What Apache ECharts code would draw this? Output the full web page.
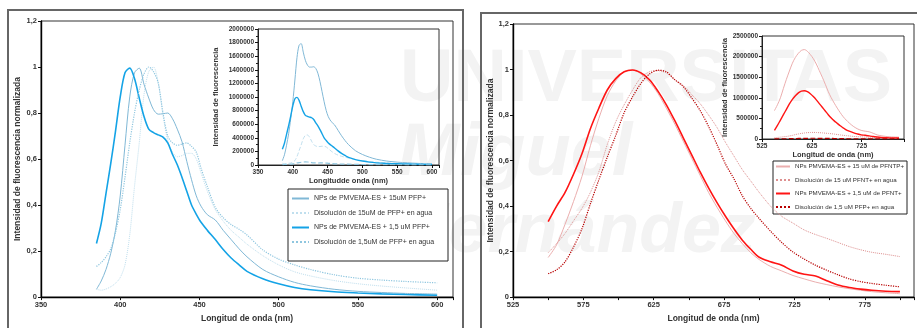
<!DOCTYPE html>
<html lang="es">
<head>
<meta charset="UTF-8">
<title>Espectros de fluorescencia PFP+ / PFNT+</title>
<script src="https://cdn.jsdelivr.net/npm/echarts@6/dist/echarts.min.js"></script>
<style>
  body { margin: 0; padding: 0; background: #fff; }
  #chart { width: 917px; height: 328px; }
</style>
</head>
<body>
<div id="chart"></div>
<script>
// ---- Panel izquierdo: PFP+ ----
const lambdaIzq = [385, 388, 391, 394, 397, 400, 403, 406, 409, 412, 415, 418, 421, 424, 427, 430, 433, 436, 439, 442,
  445, 448, 451, 455, 460, 465, 470, 475, 480, 490, 500, 510, 520, 535, 550, 565, 580, 600];
const normNP15PFP = [0.034, 0.07, 0.12, 0.19, 0.29, 0.44, 0.66, 0.87, 0.975, 0.995, 0.925, 0.865, 0.815, 0.795, 0.797, 0.80, 0.775, 0.73, 0.675, 0.59,
  0.51, 0.44, 0.395, 0.358, 0.335, 0.29, 0.25, 0.21, 0.175, 0.12, 0.088, 0.064, 0.049, 0.034, 0.025, 0.02, 0.016, 0.013];
const normDis15PFP = [0.034, 0.03, 0.035, 0.045, 0.06, 0.085, 0.14, 0.27, 0.48, 0.67, 0.88, 0.98, 1.0, 0.93, 0.79, 0.68, 0.63, 0.61, 0.615, 0.625,
  0.625, 0.60, 0.54, 0.46, 0.38, 0.33, 0.29, 0.26, 0.23, 0.18, 0.14, 0.11, 0.092, 0.072, 0.058, 0.048, 0.04, 0.03];
const normNP15uPFP = [0.233, 0.32, 0.45, 0.58, 0.72, 0.87, 0.975, 0.995, 0.95, 0.865, 0.785, 0.73, 0.715, 0.705, 0.695, 0.67, 0.62, 0.575, 0.52, 0.46,
  0.40, 0.36, 0.325, 0.29, 0.25, 0.207, 0.17, 0.14, 0.112, 0.08, 0.058, 0.042, 0.032, 0.023, 0.018, 0.014, 0.011, 0.008];
const normDis15uPFP = [0.133, 0.15, 0.175, 0.21, 0.28, 0.38, 0.52, 0.67, 0.80, 0.90, 0.97, 1.0, 0.98, 0.93, 0.80, 0.70, 0.67, 0.66, 0.665, 0.67,
  0.655, 0.63, 0.56, 0.48, 0.39, 0.345, 0.315, 0.295, 0.27, 0.205, 0.165, 0.14, 0.12, 0.097, 0.082, 0.074, 0.068, 0.062];
// intensidades absolutas (recuadro)
const absNP15PFP = [64000, 150000, 290000, 460000, 680000, 930000, 1250000, 1580000, 1760000, 1785000, 1660000, 1540000, 1470000, 1440000, 1440000, 1445000, 1420000, 1350000, 1230000, 1080000,
  930000, 800000, 710000, 640000, 590000, 510000, 430000, 360000, 300000, 210000, 155000, 115000, 85000, 58000, 42000, 32000, 24000, 16000];
const absDis15PFP = [25000, 20000, 22000, 25000, 30000, 42000, 65000, 125000, 210000, 295000, 385000, 435000, 442000, 410000, 350000, 300000, 280000, 270000, 272000, 276000,
  276000, 265000, 240000, 205000, 170000, 145000, 128000, 115000, 102000, 80000, 62000, 49000, 41000, 32000, 26000, 21000, 18000, 13000];
const absNP15uPFP = [230000, 320000, 450000, 580000, 720000, 870000, 975000, 995000, 950000, 865000, 785000, 730000, 715000, 705000, 695000, 670000, 620000, 575000, 520000, 460000,
  400000, 360000, 325000, 290000, 250000, 207000, 170000, 140000, 112000, 80000, 58000, 42000, 32000, 23000, 18000, 14000, 11000, 8000];
const absDis15uPFP = [6000, 7000, 8000, 9500, 12500, 17000, 23000, 30000, 36000, 40500, 43500, 45000, 44000, 42000, 36000, 31500, 30000, 29500, 30000, 30000,
  29500, 28500, 25000, 21500, 17500, 15500, 14000, 13000, 12000, 9200, 7400, 6300, 5400, 4400, 3700, 3300, 3000, 2800];

// ---- Panel derecho: PFNT+ ----
const lambdaDer = [550, 556, 562, 568, 574, 580, 586, 592, 598, 604, 610, 616, 622, 628, 634, 640, 646, 652, 658, 664,
  670, 676, 682, 688, 694, 700, 708, 716, 724, 732, 740, 748, 756, 764, 772, 780, 790, 800];
const normNP15PFNT = [0.174, 0.23, 0.32, 0.42, 0.53, 0.665, 0.785, 0.885, 0.95, 0.99, 0.998, 0.98, 0.945, 0.895, 0.83, 0.76, 0.685, 0.61, 0.535, 0.46,
  0.395, 0.335, 0.28, 0.235, 0.195, 0.165, 0.135, 0.115, 0.095, 0.08, 0.066, 0.055, 0.045, 0.037, 0.03, 0.024, 0.019, 0.015];
const normDis15PFNT = [0.195, 0.235, 0.28, 0.335, 0.39, 0.46, 0.55, 0.67, 0.77, 0.845, 0.91, 0.965, 0.99, 0.995, 0.985, 0.955, 0.93, 0.89, 0.85, 0.80,
  0.745, 0.68, 0.62, 0.56, 0.51, 0.46, 0.40, 0.355, 0.325, 0.295, 0.275, 0.258, 0.24, 0.222, 0.208, 0.197, 0.188, 0.178];
const normNP15uPFNT = [0.332, 0.40, 0.46, 0.54, 0.63, 0.74, 0.83, 0.91, 0.96, 0.99, 0.998, 0.985, 0.955, 0.905, 0.845, 0.775, 0.70, 0.625, 0.55, 0.48,
  0.415, 0.355, 0.30, 0.25, 0.21, 0.175, 0.155, 0.14, 0.115, 0.10, 0.093, 0.072, 0.053, 0.042, 0.035, 0.03, 0.026, 0.024];
const normDis15uPFNT = [0.103, 0.12, 0.155, 0.22, 0.30, 0.41, 0.515, 0.615, 0.71, 0.81, 0.88, 0.94, 0.98, 0.997, 0.99, 0.955, 0.925, 0.875, 0.82, 0.75,
  0.67, 0.585, 0.52, 0.445, 0.39, 0.345, 0.29, 0.24, 0.198, 0.167, 0.14, 0.118, 0.098, 0.08, 0.068, 0.06, 0.052, 0.045];
const absNP15PFNT = [690000, 830000, 1000000, 1230000, 1450000, 1650000, 1840000, 1980000, 2080000, 2150000, 2170000, 2130000, 2050000, 1950000, 1820000, 1660000, 1500000, 1330000, 1150000, 1000000,
  870000, 750000, 640000, 540000, 460000, 390000, 310000, 250000, 210000, 190000, 175000, 140000, 100000, 80000, 65000, 55000, 48000, 45000];
const absDis15PFNT = [31000, 38000, 45000, 54000, 62000, 74000, 88000, 107000, 123000, 135000, 146000, 154000, 158000, 160000, 158000, 153000, 149000, 142000, 136000, 128000,
  119000, 109000, 99000, 90000, 82000, 74000, 64000, 57000, 52000, 47000, 44000, 41000, 38000, 36000, 33000, 32000, 30000, 28000];
const absNP15uPFNT = [210000, 330000, 460000, 590000, 720000, 850000, 960000, 1050000, 1120000, 1160000, 1170000, 1150000, 1100000, 1030000, 950000, 860000, 770000, 680000, 590000, 510000,
  440000, 380000, 320000, 270000, 220000, 190000, 155000, 125000, 100000, 90000, 75000, 60000, 48000, 38000, 32000, 28000, 25000, 23000];
const absDis15uPFNT = [2000, 2200, 2800, 4000, 5400, 7400, 9300, 11000, 12800, 14600, 15800, 17000, 17600, 18000, 17800, 17200, 16600, 15700, 14800, 13500,
  12000, 10500, 9400, 8000, 7000, 6200, 5200, 4300, 3600, 3000, 2500, 2100, 1800, 1400, 1200, 1100, 900, 800];

const nombresIzq = ['NPs de PMVEMA-ES + 15uM PFP+', 'Disolución de 15uM de PFP+ en agua',
  'NPs de PMVEMA-ES + 1,5 uM PFP+', 'Disolución de 1,5uM de PFP+ en agua'];
const nombresDer = ['NPs PMVEMA-ES + 15 uM de PFNTP+', 'Disolución de 15 uM PFNT+ en agua',
  'NPs PMVEMA-ES + 1,5 uM de PFNT+', 'Disolución de 1,5 uM PFP+ en agua'];

const FONT = 'Liberation Sans, Arial, sans-serif';
const coma = v => String(v).replace('.', ',');

function linea(name, xs, ys, ix, color, width, type) {
  return {
    name, type: 'line', xAxisIndex: ix, yAxisIndex: ix,
    data: xs.map((x, i) => [x, ys[i]]),
    symbol: 'none', smooth: 0.3, silent: true,
    lineStyle: { color, width, type }, itemStyle: { color },
    emphasis: { disabled: true }
  };
}

// main = true para los ejes grandes (línea negra más gruesa, sin marcas menores)
function ejeX(ix, min, max, interval, labels, name, size, gap, main) {
  return {
    type: 'value', gridIndex: ix, min, max, interval,
    name, nameLocation: 'middle', nameGap: gap,
    nameTextStyle: { fontFamily: FONT, fontSize: size + 1, fontWeight: 'bold', color: '#333' },
    axisLine: { lineStyle: { color: main ? '#000' : '#222', width: main ? 1.4 : 1 } },
    axisTick: { length: 3, lineStyle: { color: '#111' } },
    axisLabel: { fontFamily: FONT, fontSize: size, fontWeight: 'bold', color: '#333', margin: 4,
      formatter: v => labels.includes(v) ? String(v) : '' },
    splitLine: { show: false }
  };
}

function ejeY(ix, max, interval, name, size, gap, fmt, main) {
  return {
    type: 'value', gridIndex: ix, min: 0, max, interval,
    name, nameLocation: 'middle', nameGap: gap,
    nameTextStyle: { fontFamily: FONT, fontSize: size + 1, fontWeight: 'bold', color: '#333' },
    axisLine: { show: true, lineStyle: { color: main ? '#000' : '#222', width: main ? 1.4 : 1 } },
    axisTick: { show: true, length: 3, lineStyle: { color: '#111' } },
    minorTick: { show: !main, splitNumber: 2, length: 2, lineStyle: { color: '#222' } },
    axisLabel: { fontFamily: FONT, fontSize: size, fontWeight: 'bold', color: '#333', margin: 4, formatter: fmt },
    splitLine: { show: false }
  };
}

const chart = echarts.init(document.getElementById('chart'), null, { renderer: 'canvas' });

const marca = { fill: '#f3f3f3', fontFamily: FONT, fontWeight: 'bold' };

chart.setOption({
  animation: false,
  backgroundColor: '#fff',
  grid: [
    { left: 41, top: 21, width: 412, height: 282, show: true, borderColor: '#333', borderWidth: 1 },
    { left: 258, top: 29, width: 181, height: 136, show: true, borderColor: '#333', borderWidth: 1 },
    { left: 513, top: 24, width: 406, height: 280, show: true, borderColor: '#333', borderWidth: 1 },
    { left: 762, top: 36, width: 142, height: 103, show: true, borderColor: '#333', borderWidth: 1 }
  ],
  xAxis: [
    ejeX(0, 350, 610, 50, [350, 400, 450, 500, 550, 600], 'Longitud de onda (nm)', 7.5, 14, true),
    ejeX(1, 350, 610, 50, [350, 400, 450, 500, 550, 600], 'Longitudde onda (nm)', 6.5, 10, false),
    ejeX(2, 525, 810, 25, [525, 575, 625, 675, 725, 775], 'Longitud de onda (nm)', 7.5, 14, true),
    ejeX(3, 525, 810, 100, [525, 625, 725], 'Longitud de onda (nm)', 6.5, 9, false)
  ],
  yAxis: [
    ejeY(0, 1.2, 0.2, 'Intensidad de fluorescencia normalizada', 7.5, 19, coma, true),
    ejeY(1, 2000000, 200000, 'Intensidad de fluorescencia', 6.5, 38, v => String(v), false),
    ejeY(2, 1.2, 0.2, 'Intensidad de fluorescencia normalizada', 7.5, 17, coma, true),
    ejeY(3, 2500000, 500000, 'Intensidad de fluorescencia', 6.5, 33, v => String(v), false)
  ],
  legend: [
    { data: nombresIzq, left: 291, top: 195, orient: 'vertical', itemWidth: 17, itemHeight: 8, itemGap: 7.5,
      padding: 0, selectedMode: false, itemStyle: { opacity: 0 },
      textStyle: { fontFamily: FONT, fontSize: 7, color: '#333' } },
    { data: nombresDer, left: 775, top: 163.5, orient: 'vertical', itemWidth: 14, itemHeight: 7, itemGap: 7.5,
      padding: 0, selectedMode: false, itemStyle: { opacity: 0 },
      textStyle: { fontFamily: FONT, fontSize: 6.2, color: '#333' } }
  ],
  graphic: [
    // marca de agua
    { type: 'text', z: -1, silent: true, left: 400, top: 44, style: Object.assign({ text: 'UNIVERSITAS', fontSize: 74 }, marca) },
    { type: 'text', z: -1, silent: true, left: 398, top: 118, style: Object.assign({ text: 'Miguel', fontSize: 74, fontStyle: 'italic' }, marca) },
    { type: 'text', z: -1, silent: true, left: 398, top: 198, style: Object.assign({ text: 'Hernández', fontSize: 70, fontStyle: 'italic' }, marca) },
    // marcos de los paneles
    { type: 'rect', silent: true, shape: { x: 8, y: 10, width: 455, height: 340 }, style: { fill: 'none', stroke: '#666', lineWidth: 2 } },
    { type: 'rect', silent: true, shape: { x: 481, y: 13, width: 460, height: 340 }, style: { fill: 'none', stroke: '#666', lineWidth: 2 } },
    // cajas de leyenda
    { type: 'rect', z: 3, silent: true, shape: { x: 288, y: 189, width: 160, height: 72 }, style: { fill: '#fff', stroke: '#222', lineWidth: 1 } },
    { type: 'rect', z: 3, silent: true, shape: { x: 773, y: 161, width: 134, height: 53 }, style: { fill: '#fff', stroke: '#222', lineWidth: 1 } }
  ],
  series: [
    linea(nombresIzq[0], lambdaIzq, normNP15PFP, 0, '#80b8d6', 1, 'solid'),
    linea(nombresIzq[1], lambdaIzq, normDis15PFP, 0, '#c0dfee', 1, 'dotted'),
    linea(nombresIzq[2], lambdaIzq, normNP15uPFP, 0, '#14a3e6', 1.6, 'solid'),
    linea(nombresIzq[3], lambdaIzq, normDis15uPFP, 0, '#8fc6df', 1.2, 'dotted'),
    linea(nombresIzq[0], lambdaIzq, absNP15PFP, 1, '#80b8d6', 1, 'solid'),
    linea(nombresIzq[1], lambdaIzq, absDis15PFP, 1, '#c0dfee', 1, 'dashed'),
    linea(nombresIzq[2], lambdaIzq, absNP15uPFP, 1, '#14a3e6', 1.4, 'solid'),
    linea(nombresIzq[3], lambdaIzq, absDis15uPFP, 1, '#8fc6df', 1.2, 'dashed'),

    linea(nombresDer[0], lambdaDer, normNP15PFNT, 2, '#ebaeae', 1, 'solid'),
    linea(nombresDer[1], lambdaDer, normDis15PFNT, 2, '#de9090', 1, 'dotted'),
    linea(nombresDer[2], lambdaDer, normNP15uPFNT, 2, '#ff1414', 1.6, 'solid'),
    linea(nombresDer[3], lambdaDer, normDis15uPFNT, 2, '#b80000', 1.2, 'dotted'),
    linea(nombresDer[0], lambdaDer, absNP15PFNT, 3, '#ebaeae', 1, 'solid'),
    linea(nombresDer[1], lambdaDer, absDis15PFNT, 3, '#de9090', 1, 'dotted'),
    linea(nombresDer[2], lambdaDer, absNP15uPFNT, 3, '#ff1414', 1.4, 'solid'),
    linea(nombresDer[3], lambdaDer, absDis15uPFNT, 3, '#b80000', 1.2, 'dashed')
  ]
});
</script>
</body>
</html>
